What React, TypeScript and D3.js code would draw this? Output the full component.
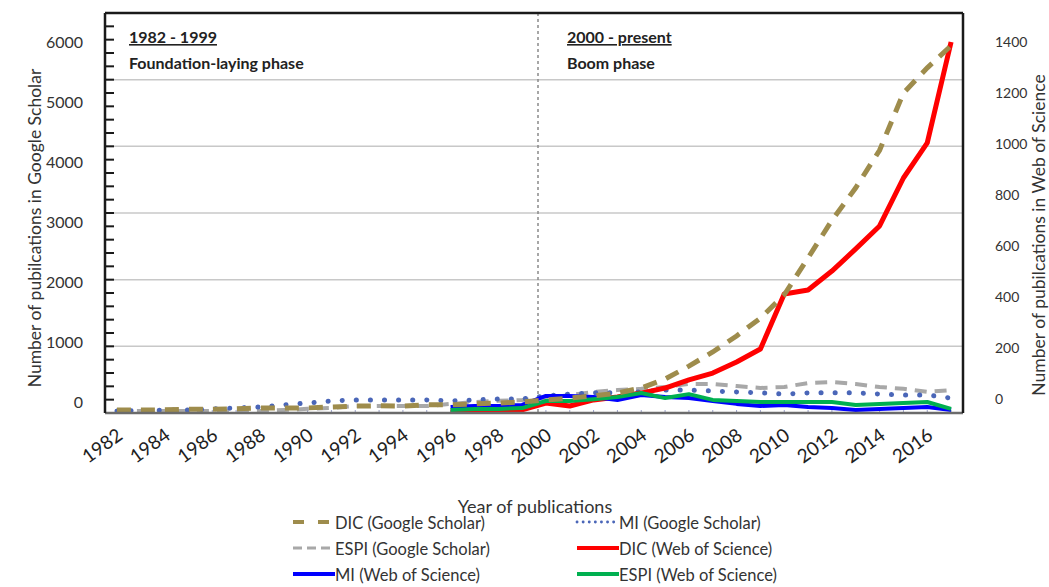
import React from 'react';
import * as d3 from 'd3';

const years = [1982, 1983, 1984, 1985, 1986, 1987, 1988, 1989, 1990, 1991, 1992, 1993, 1994, 1995, 1996, 1997, 1998, 1999, 2000, 2001, 2002, 2003, 2004, 2005, 2006, 2007, 2008, 2009, 2010, 2011, 2012, 2013, 2014, 2015, 2016, 2017];
const xTickYears = [1982, 1984, 1986, 1988, 1990, 1992, 1994, 1996, 1998, 2000, 2002, 2004, 2006, 2008, 2010, 2012, 2014, 2016];
const leftTicks = [0, 1000, 2000, 3000, 4000, 5000, 6000];
const rightTicks = [0, 200, 400, 600, 800, 1000, 1200, 1400];

// Google Scholar (left axis), 1982-2017
const dicGS = [15, 15, 20, 30, 30, 35, 50, 50, 50, 65, 80, 85, 80, 100, 100, 115, 130, 145, 180, 210, 245, 290, 375, 520, 730, 960, 1220, 1510, 1890, 2490, 3100, 3630, 4240, 5170, 5580, 5940];
const miGS = [0, 5, 15, 15, 35, 50, 65, 100, 130, 165, 180, 180, 180, 180, 165, 180, 195, 195, 245, 275, 295, 295, 310, 340, 340, 325, 310, 295, 275, 295, 295, 295, 275, 260, 260, 210];
const espiGS = [0, 0, 0, 0, 0, 0, 0, 15, 35, 50, 80, 80, 80, 80, 115, 145, 165, 180, 210, 260, 310, 340, 360, 390, 440, 440, 405, 375, 390, 455, 470, 440, 390, 360, 310, 340];

// Web of Science (right axis), 1996-2017
const wosYears = [1996, 1997, 1998, 1999, 2000, 2001, 2002, 2003, 2004, 2005, 2006, 2007, 2008, 2009, 2010, 2011, 2012, 2013, 2014, 2015, 2016, 2017];
const dicWoS = [0, 0, 3, 4, 30, 19, 42, 53, 68, 87, 118, 144, 186, 235, 444, 459, 531, 615, 702, 884, 1017, 1400];
const miWoS = [15, 19, 19, 23, 57, 57, 53, 42, 61, 53, 49, 38, 27, 19, 23, 15, 11, 4, 8, 11, 15, 4];
const espiWoS = [4, 8, 8, 11, 38, 38, 45, 53, 68, 49, 64, 42, 38, 34, 34, 34, 34, 23, 27, 30, 34, 8];

const gridSteps = [5, 10, 15, 20, 25];
const minorSteps = [0, 1, 2, 3, 4, 5, 6, 7, 8, 9, 10, 11, 12, 13, 14, 15, 16, 17, 18, 19, 20, 21, 22, 23, 24, 25, 26, 27, 28, 29, 30];

const FONT = 'Lato, "Open Sans", sans-serif';
const C = {
  dicGS: '#9e8c4c',
  miGS: '#4a66b8',
  espiGS: '#a8a8a8',
  dicWoS: '#ff0000',
  miWoS: '#0000ff',
  espiWoS: '#00b050',
};

export default function App() {
  const W = 1049, H = 587;
  const left = 105, right = 963, top = 13, bottom = 413;
  const x = d3.scalePoint<number>().domain(years).range([left, right]).padding(0.5);
  const yL = d3.scaleLinear().domain([0, 6000]).range([411, 42]);
  const yR = d3.scaleLinear().domain([0, 1400]).range([411, 42]);
  const yLabL = d3.scaleLinear().domain([0, 6000]).range([402, 42]);
  const yLabR = d3.scaleLinear().domain([0, 1400]).range([399, 42]);
  const frame = d3.scaleLinear().domain([0, 30]).range([bottom, top]);

  const lineL = d3.line<[number, number]>().x(d => x(d[0]) as number).y(d => yL(d[1]));
  const lineR = d3.line<[number, number]>().x(d => x(d[0]) as number).y(d => yR(d[1]));
  const zipL = (vals: number[]) => years.map((yr, i) => [yr, vals[i]] as [number, number]);
  const zipR = (vals: number[]) => wosYears.map((yr, i) => [yr, vals[i]] as [number, number]);

  const divider = ((x(1999) as number) + (x(2000) as number)) / 2 + 4;

  const legendItems = [
    { label: 'DIC (Google Scholar)', color: C.dicGS, w: 4, dash: '11 14', cap: 'butt', col: 0, row: 0 },
    { label: 'MI (Google Scholar)', color: C.miGS, w: 2.8, dash: '0.1 6', cap: 'round', col: 1, row: 0 },
    { label: 'ESPI (Google Scholar)', color: C.espiGS, w: 3, dash: '9 5', cap: 'butt', col: 0, row: 1 },
    { label: 'DIC (Web of Science)', color: C.dicWoS, w: 4, dash: '', cap: 'butt', col: 1, row: 1 },
    { label: 'MI (Web of Science)', color: C.miWoS, w: 4, dash: '', cap: 'butt', col: 0, row: 2 },
    { label: 'ESPI (Web of Science)', color: C.espiWoS, w: 4, dash: '', cap: 'butt', col: 1, row: 2 },
  ];
  const legX = [293, 577];
  const legY = [523, 549, 575];

  return (
    <svg width={W} height={H} style={{ position: 'absolute', left: 0, top: 0, background: '#fff' }} fontFamily={FONT}>
      <rect x={0} y={0} width={W} height={H} fill="#fff" />
      {/* gridlines */}
      {gridSteps.map(s => (
        <line key={'g' + s} x1={left} x2={right} y1={frame(s)} y2={frame(s)} stroke="#c8c8c8" strokeWidth={1.5} />
      ))}
      {/* divider */}
      <line x1={divider} x2={divider} y1={top} y2={bottom} stroke="#8a8a8a" strokeWidth={1.5} strokeDasharray="3 3" />
      {/* minor ticks on left axis */}
      {minorSteps.map(s => (
        <line key={'m' + s} x1={left} x2={left + 9} y1={frame(s)} y2={frame(s)} stroke="#1a1a1a" strokeWidth={2} />
      ))}
      {/* small ticks on bottom axis */}
      {years.map(yr => (
        <line key={'bt' + yr} x1={x(yr)} x2={x(yr)} y1={bottom} y2={bottom - 3} stroke="#9aa0c8" strokeWidth={1} />
      ))}

      {/* series */}
      <path d={lineL(zipL(espiGS)) || ''} fill="none" stroke={C.espiGS} strokeWidth={4} strokeDasharray="12 8" />
      <path d={lineL(zipL(miGS)) || ''} fill="none" stroke={C.miGS} strokeWidth={5} strokeDasharray="0.1 14" strokeLinecap="round" />
      <path d={lineR(zipR(dicWoS)) || ''} fill="none" stroke={C.dicWoS} strokeWidth={5} strokeLinejoin="round" />
      <path d={lineR(zipR(miWoS)) || ''} fill="none" stroke={C.miWoS} strokeWidth={4} strokeLinejoin="round" />
      <path d={lineR(zipR(espiWoS)) || ''} fill="none" stroke={C.espiWoS} strokeWidth={4} strokeLinejoin="round" />
      <path d={lineL(zipL(dicGS)) || ''} fill="none" stroke={C.dicGS} strokeWidth={5} strokeDasharray="14 10" />

      {/* frame */}
      <line x1={left} x2={right} y1={bottom} y2={bottom} stroke="#6b6b6b" strokeWidth={2.5} />
      <line x1={left} x2={right} y1={top} y2={top} stroke="#1a1a1a" strokeWidth={2.5} />
      <line x1={left} x2={left} y1={top} y2={bottom} stroke="#1a1a1a" strokeWidth={2.5} />
      <line x1={right} x2={right} y1={top} y2={bottom} stroke="#1a1a1a" strokeWidth={2.5} />

      {/* phase annotations */}
      <text x={129} y={43} fontSize={16} fontWeight={700} fill="#222" textDecoration="underline">1982 - 1999</text>
      <text x={129} y={69} fontSize={16} fontWeight={700} fill="#222">Foundation-laying phase</text>
      <text x={567} y={43} fontSize={16} fontWeight={700} fill="#222" textDecoration="underline">2000 - present</text>
      <text x={567} y={69} fontSize={16} fontWeight={700} fill="#222">Boom phase</text>

      {/* left axis labels */}
      {leftTicks.map(v => (
        <text key={'lt' + v} x={83} y={yLabL(v)} dy="0.35em" textAnchor="end" fontSize={16} fill="#333">{v}</text>
      ))}
      {/* right axis labels */}
      {rightTicks.map(v => (
        <text key={'rt' + v} x={995} y={yLabR(v)} dy="0.35em" textAnchor="start" fontSize={14} fill="#333">{v}</text>
      ))}
      {/* x axis labels */}
      {xTickYears.map(yr => (
        <text key={'xt' + yr} transform={`translate(${(x(yr) as number) + 7},${438}) rotate(-36)`} textAnchor="end" fontSize={19} fill="#1e1e1e">{yr}</text>
      ))}

      {/* axis titles */}
      <text transform={`translate(41,228) rotate(-90)`} textAnchor="middle" fontSize={17.5} fill="#333">Number of pubilcations in Google Scholar</text>
      <text transform={`translate(1045,235) rotate(-90)`} textAnchor="middle" fontSize={17.5} fill="#333">Number of pubilcations in Web of Science</text>
      <text x={535} y={513} textAnchor="middle" fontSize={18} fill="#333">Year of publications</text>

      {/* legend */}
      {legendItems.map(it => (
        <g key={it.label}>
          <line x1={legX[it.col]} x2={legX[it.col] + 42} y1={legY[it.row] - 1} y2={legY[it.row] - 1} stroke={it.color} strokeWidth={it.w} strokeDasharray={it.dash || undefined} strokeLinecap={it.cap as any} />
          <text x={legX[it.col] + 42} y={legY[it.row]} dy="0.35em" fontSize={16.5} fill="#333">{it.label}</text>
        </g>
      ))}
    </svg>
  );
}
